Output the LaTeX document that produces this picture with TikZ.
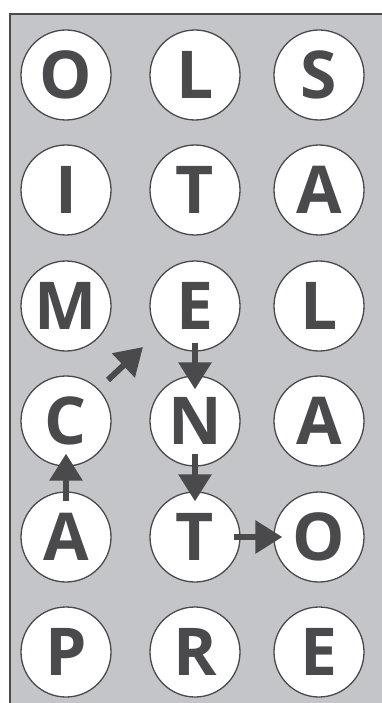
\documentclass[tikz,border=0pt]{standalone}
\usepackage{fontspec}
\setsansfont{Open Sans}
\usetikzlibrary{arrows.meta}
\definecolor{ink}{HTML}{4A4A4D}
\definecolor{panel}{HTML}{C4C5C9}
\begin{document}
\begin{tikzpicture}[
  x=1pt, y=-1pt,
  letter/.style={circle, draw=ink, line width=1.3pt, fill=white, minimum size=90pt,
                 inner sep=0pt, text=ink, font=\sffamily\bfseries\fontsize{66}{66}\selectfont},
  arr/.style={-{Triangle[length=27pt,width=32pt]}, line width=6pt, draw=ink}
]
  \useasboundingbox (0,0) rectangle (382,703);
  % Fond
  \fill[panel] (10,14) rectangle (382,703);
  \draw[ink, line width=2.5pt] (10,703) -- (10,14) -- (382,14);

  % Ligne 1
  \node[letter] (o1) at (66, 75) {O};
  \node[letter] (l1) at (195, 75) {L};
  \node[letter] (s1) at (319, 75) {S};
  % Ligne 2
  \node[letter] (i1) at (66, 190) {I};
  \node[letter] (t1) at (195, 190) {T};
  \node[letter] (a1) at (319, 190) {A};
  % Ligne 3
  \node[letter] (m1) at (66, 306) {M};
  \node[letter] (e1) at (195, 306) {E};
  \node[letter] (l2) at (319, 306) {L};
  % Ligne 4
  \node[letter] (c1) at (66, 421) {C};
  \node[letter] (n1) at (195, 421) {N};
  \node[letter] (a2) at (319, 421) {A};
  % Ligne 5
  \node[letter] (a3) at (66, 537) {A};
  \node[letter] (t2) at (195, 537) {T};
  \node[letter] (o2) at (319, 537) {O};
  % Ligne 6
  \node[letter] (p1) at (66, 652) {P};
  \node[letter] (r1) at (195, 652) {R};
  \node[letter] (e2) at (319, 652) {E};

  % Chemin
  \draw[arr] ([yshift=-10pt]a3.north) -- ([yshift=13pt]c1.south);
  \draw[arr] ([shift={(42pt,41pt)}]c1.center) -- ([shift={(-52pt,-41pt)}]e1.center);
  \draw[arr] ([yshift=9pt]e1.south) -- ([yshift=-14pt]n1.north);
  \draw[arr] ([yshift=13pt]n1.south) -- ([yshift=-10pt]t2.north);
  \draw[arr] ([xshift=-7pt]t2.east) -- ([xshift=9pt]o2.west);
\end{tikzpicture}
\end{document}
